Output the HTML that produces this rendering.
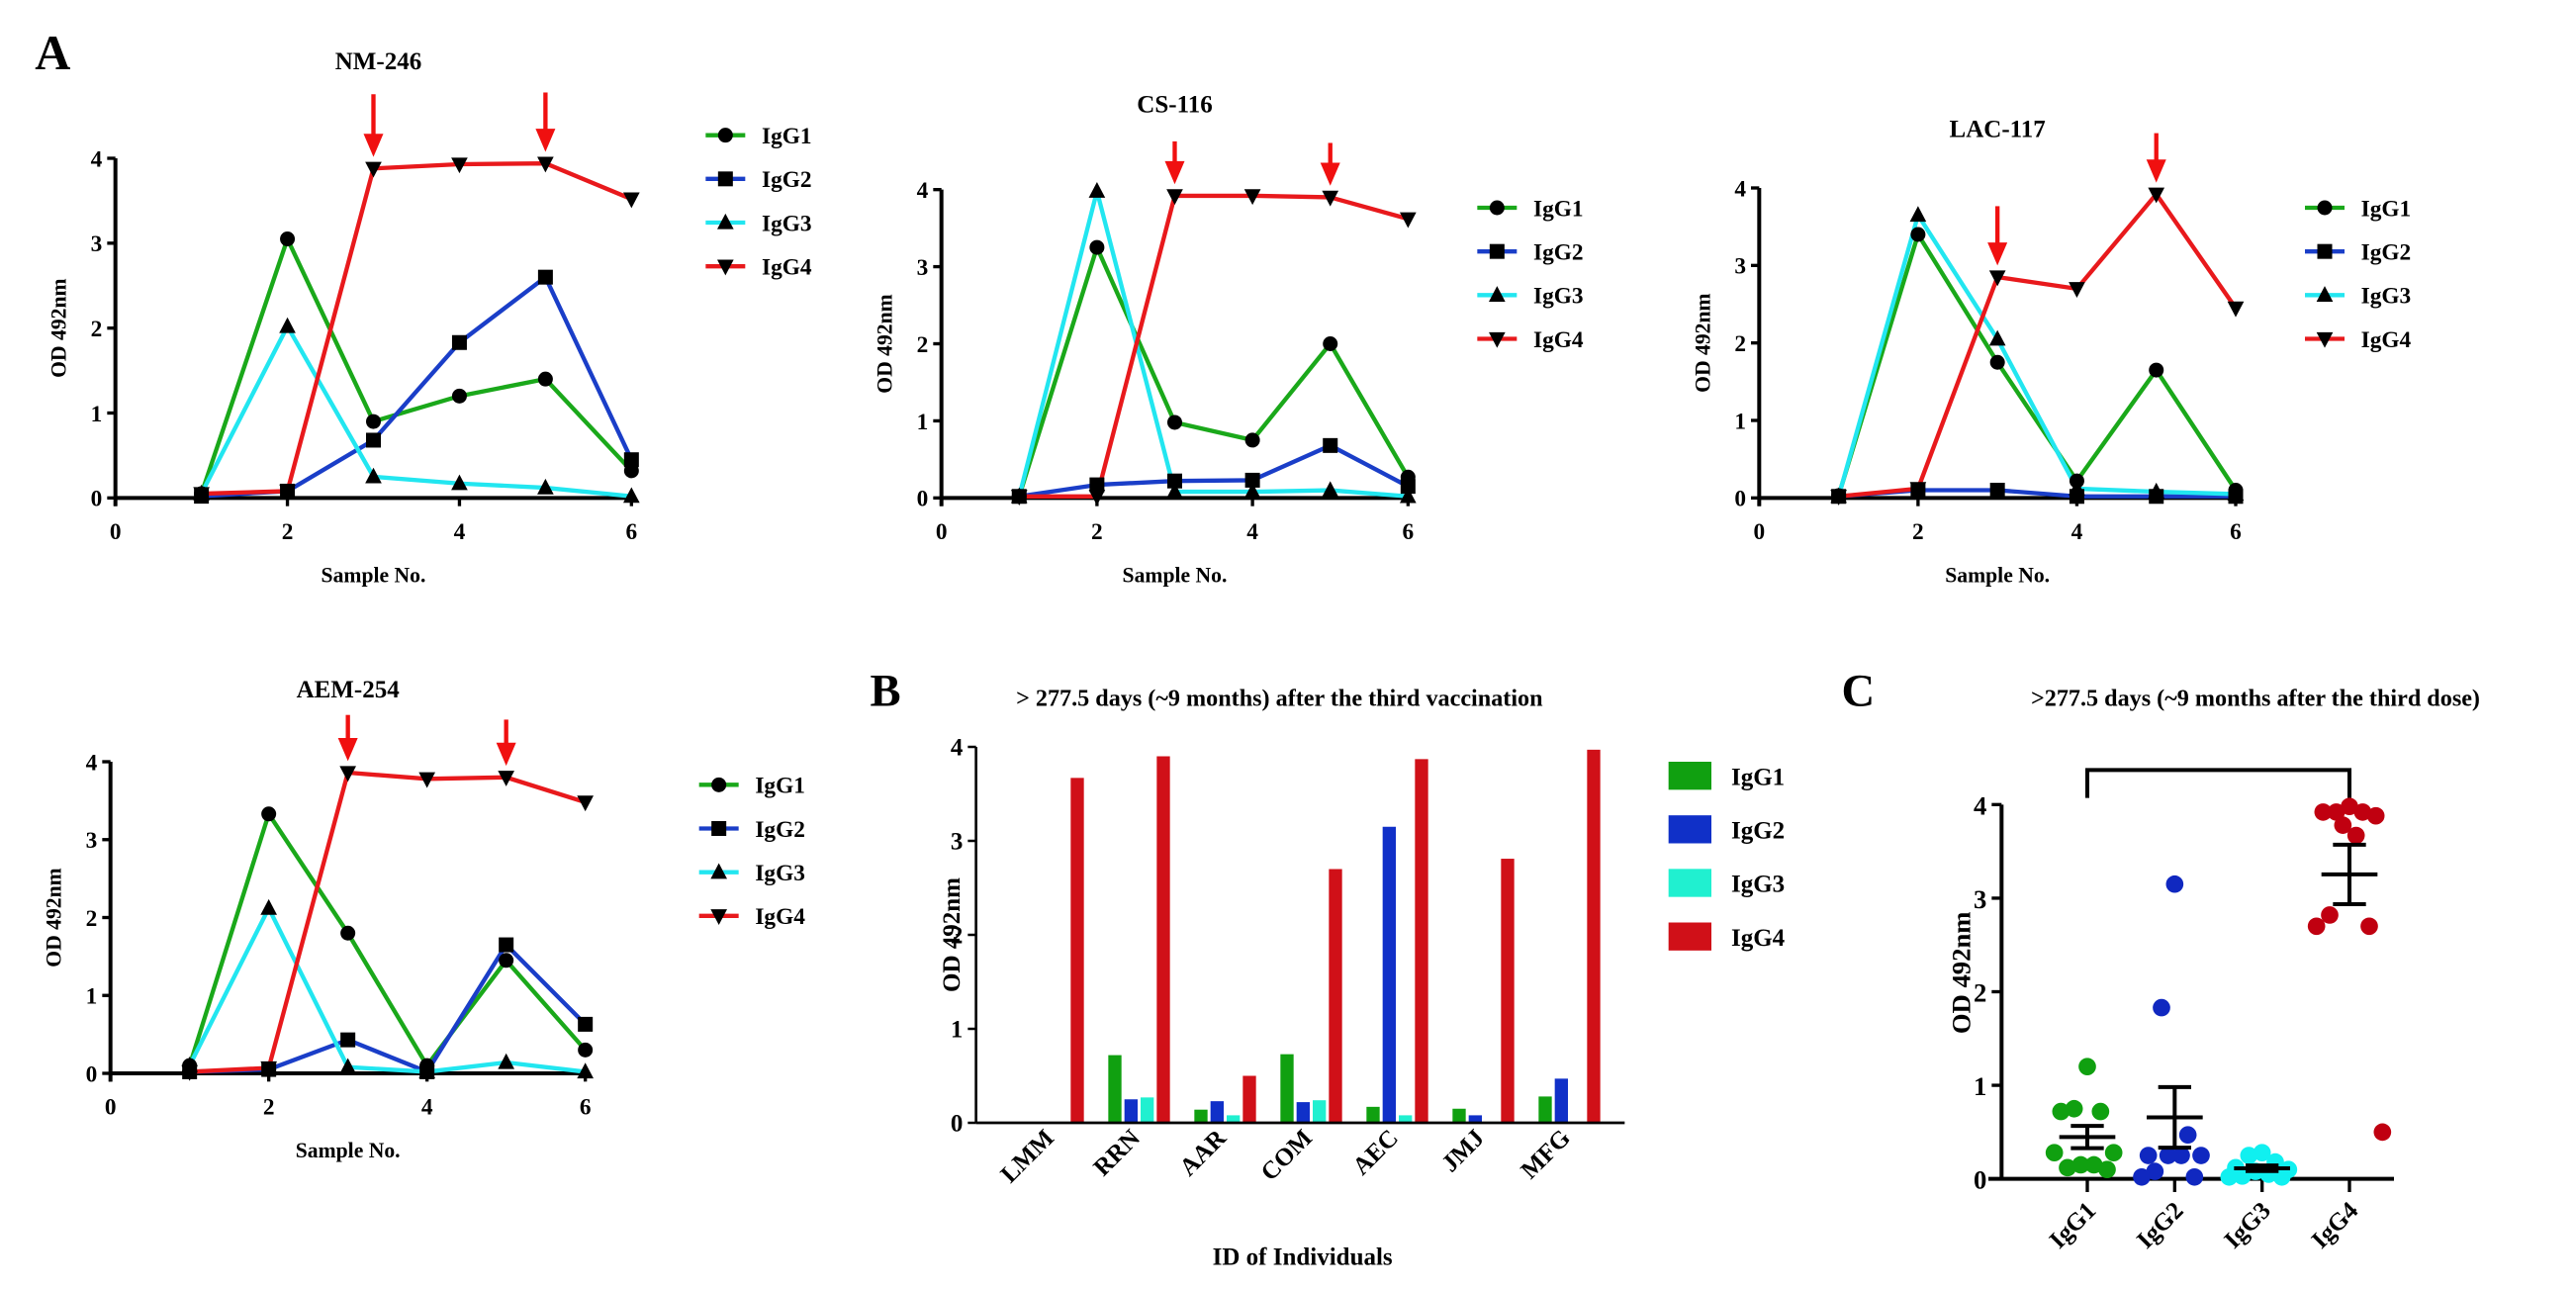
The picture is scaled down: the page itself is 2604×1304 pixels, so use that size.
<!DOCTYPE html>
<html><head><meta charset="utf-8"><style>
html,body{margin:0;padding:0;background:#fff;}
svg{display:block;font-family:"Liberation Serif",serif;font-weight:bold;}
</style></head><body>
<svg id="fig" width="2604" height="1304" viewBox="0 0 1562.4 782.4" xmlns="http://www.w3.org/2000/svg"></svg>
<script>
const series = ['IgG1','IgG2','IgG3','IgG4'];
const samples = [1,2,3,4,5,6];
const nmIgG1 = [0.05,3.05,0.9,1.2,1.4,0.32];
const nmIgG2 = [0.02,0.08,0.68,1.83,2.6,0.45];
const nmIgG3 = [0.05,2.02,0.25,0.17,0.12,0.02];
const nmIgG4 = [0.05,0.08,3.88,3.93,3.94,3.52];
const csIgG1 = [0.02,3.25,0.98,0.75,2.0,0.27];
const csIgG2 = [0.02,0.17,0.22,0.23,0.68,0.15];
const csIgG3 = [0.02,3.98,0.08,0.08,0.1,0.02];
const csIgG4 = [0.02,0.02,3.92,3.92,3.9,3.62];
const lacIgG1 = [0.03,3.4,1.75,0.22,1.65,0.1];
const lacIgG2 = [0.02,0.1,0.1,0.02,0.02,0.02];
const lacIgG3 = [0.02,3.65,2.05,0.12,0.08,0.05];
const lacIgG4 = [0.02,0.12,2.85,2.7,3.92,2.45];
const aemIgG1 = [0.1,3.33,1.8,0.1,1.45,0.3];
const aemIgG2 = [0.02,0.05,0.43,0.02,1.65,0.63];
const aemIgG3 = [0.1,2.12,0.08,0.02,0.14,0.02];
const aemIgG4 = [0.02,0.07,3.86,3.78,3.8,3.48];
const arrowSamples = [3,5];
const xTicks = [0,2,4,6];
const yTicks = [0,1,2,3,4];
const individuals = ['LMM','RRN','AAR','COM','AEC','JMJ','MFG'];
const barIgG1 = [0,0.72,0.14,0.73,0.17,0.15,0.28];
const barIgG2 = [0,0.25,0.23,0.22,3.15,0.08,0.47];
const barIgG3 = [0,0.27,0.08,0.24,0.08,0,0];
const barIgG4 = [3.67,3.9,0.5,2.7,3.87,2.81,3.97];
const dotIgG1 = [1.2,0.75,0.72,0.72,0.28,0.15,0.15,0.12,0.1,0.28];
const dotIgG2 = [3.15,1.83,0.47,0.25,0.25,0.25,0.25,0.08,0.02,0.02];
const dotIgG3 = [0.28,0.25,0.18,0.12,0.1,0.08,0.05,0.03,0.02,0.02];
const dotIgG4 = [3.98,3.92,3.92,3.92,3.88,3.78,3.67,2.82,2.7,2.7,0.5];

const NS='http://www.w3.org/2000/svg';
const svg=document.getElementById('fig');
function el(tag,attrs,parent,text){const e=document.createElementNS(NS,tag);for(const k in attrs)e.setAttribute(k,attrs[k]);if(text!==undefined)e.textContent=text;(parent||svg).appendChild(e);return e;}
function txt(x,y,s,size,parent,anchor,rot){const t=el('text',{x:x,y:y,'font-size':size,'text-anchor':anchor||'middle',fill:'#000'},parent,s);if(rot)t.setAttribute('transform','rotate('+rot+' '+x+' '+y+')');return t;}
const lineColors=['#1aa81a','#1a3ec8','#22e6f0','#e8191c'];
function marker(kind,x,y,g){
  let m;
  if(kind===0)m=el('circle',{cx:x,cy:y,r:4.5,fill:'#000'},g);
  else if(kind===1)m=el('rect',{x:x-4.5,y:y-4.5,width:9,height:9,fill:'#000'},g);
  else if(kind===2)m=el('polygon',{points:(x)+','+(y-5.5)+' '+(x-5)+','+(y+4)+' '+(x+5)+','+(y+4),fill:'#000'},g);
  else m=el('polygon',{points:(x)+','+(y+5.5)+' '+(x-5)+','+(y-4)+' '+(x+5)+','+(y-4),fill:'#000'},g);
  return m;
}
function linePanel(cfg){
  const g=el('g',{});
  
  
  const sx=v=>cfg.x0+(cfg.x6-cfg.x0)*v/6;
  const sy=v=>cfg.y0-(cfg.y0-cfg.y4)*v/4;
  const t=txt((cfg.x0+cfg.x6)/2+cfg.tdx,cfg.ty,cfg.title,15,g);
  
  const ya=el('line',{x1:cfg.x0,y1:cfg.y0+5,x2:cfg.x0,y2:sy(4),stroke:'#000','stroke-width':2.4},g);
  
  const xa=el('line',{x1:cfg.x0,y1:cfg.y0,x2:sx(6),y2:cfg.y0,stroke:'#000','stroke-width':2.4},g);
  
  yTicks.forEach(v=>{el('line',{x1:cfg.x0-5,y1:sy(v),x2:cfg.x0,y2:sy(v),stroke:'#000','stroke-width':2},g);
    const l=txt(cfg.x0-8,sy(v)+5,String(v),14,g,'end');});
  xTicks.forEach(v=>{el('line',{x1:sx(v),y1:cfg.y0,x2:sx(v),y2:cfg.y0+5,stroke:'#000','stroke-width':2},g);
    const l=txt(sx(v),cfg.y0+25,String(v),14,g);});
  const yt=txt(cfg.x0-30,(cfg.y0+sy(4))/2,'OD 492nm',13,g,'middle',-90);
  
  const xt=txt((cfg.x0+cfg.x6)/2,cfg.y0+51,'Sample No.',13,g);
  
  cfg.data.forEach((d,si)=>{
    const pts=d.map((v,i)=>sx(samples[i])+','+sy(v)).join(' ');
    const pl=el('polyline',{points:pts,fill:'none',stroke:lineColors[si],'stroke-width':2.6,'stroke-linejoin':'round'},g);
    
  });
  cfg.data.forEach((d,si)=>{d.forEach((v,i)=>{const m=marker(si,sx(samples[i]),sy(v),g);
    });});
  arrowSamples.forEach((s,i)=>{
    const x=sx(s),tip=sy(cfg.data[3][samples.indexOf(s)])-7,top=tip-cfg.arrowLen[i];
    const a=el('g',{},g);
    el('line',{x1:x,y1:top,x2:x,y2:tip-12,stroke:'#f01010','stroke-width':2.6},a);
    el('polygon',{points:(x-6)+','+(tip-14)+' '+(x+6)+','+(tip-14)+' '+x+','+tip,fill:'#f01010'},a);
  });
  series.forEach((s,si)=>{
    const y=cfg.ly+si*26.5;
    const lg=el('g',{},g);
    el('line',{x1:cfg.lx,y1:y,x2:cfg.lx+24,y2:y,stroke:lineColors[si],'stroke-width':2.6},lg);
    marker(si,cfg.lx+12,y,lg);
    txt(cfg.lx+34,y+5,s,14,lg,'start');
  });
}
linePanel({name:'panel-nm-246',title:'NM-246',x0:70,x6:383,y0:302,y4:96,tdx:3,ty:42,lx:428,ly:82,arrowLen:[38,36],data:[nmIgG1,nmIgG2,nmIgG3,nmIgG4]});
linePanel({name:'panel-cs-116',title:'CS-116',x0:571,x6:854,y0:302,y4:115,tdx:0,ty:68,lx:896,ly:126,arrowLen:[26,26],data:[csIgG1,csIgG2,csIgG3,csIgG4]});
linePanel({name:'panel-lac-117',title:'LAC-117',x0:1067,x6:1356,y0:302,y4:114,tdx:0,ty:83,lx:1398,ly:126,arrowLen:[36,30],data:[lacIgG1,lacIgG2,lacIgG3,lacIgG4]});
linePanel({name:'panel-aem-254',title:'AEM-254',x0:67,x6:355,y0:651,y4:462,tdx:0,ty:423,lx:424,ly:476,arrowLen:[28,28],data:[aemIgG1,aemIgG2,aemIgG3,aemIgG4]});
const A=txt(32,42,'A',30,svg);

(function(){
  const g=el('g',{});
  const ax=592,y0=681,y4=453,gx0=620,gw=52.2;
  const sy=v=>y0-(y0-y4)*v/4;
  const bcol=['#10a010','#1030c8','#20f0d0','#d01018'];
  const L=txt(537,428,'B',28,g);
  const t=txt(776,428,'> 277.5 days  (~9 months) after the third vaccination',14.5,g);
  const vals=[barIgG1,barIgG2,barIgG3,barIgG4];
  vals.forEach((arr,si)=>arr.forEach((v,i)=>{
    const x=gx0+gw*i+si*9.8;
    const r=el('rect',{x:x,y:sy(v),width:8,height:y0-sy(v),fill:bcol[si]},g);
    
  }));
  const ya=el('line',{x1:ax,y1:y0,x2:ax,y2:y4,stroke:'#000','stroke-width':1.6},g);
  const xa=el('line',{x1:ax,y1:y0,x2:gx0+gw*7,y2:y0,stroke:'#000','stroke-width':1.6},g);
  yTicks.forEach(v=>{el('line',{x1:ax-5,y1:sy(v),x2:ax,y2:sy(v),stroke:'#000','stroke-width':1.5},g);
    const l=txt(ax-8,sy(v)+5,String(v),15,g,'end');});
  individuals.forEach((s,i)=>{const cx=gx0+gw*i+20;
    const l=txt(cx,y0+10,s,15,g,'end',-45);});
  const yt=txt(582,567,'OD 492nm',15,g,'middle',-90);
  const xt=txt(790,767,'ID of Individuals',15,g);
  series.forEach((s,si)=>{const y=470+si*32.5;
    const lg=el('g',{},g);
    el('rect',{x:1012,y:y-8,width:26,height:17,fill:bcol[si]},lg);
    txt(1050,y+6,s,15,lg,'start');});
})();

(function(){
  const g=el('g',{});
  const ax=1214,y0=715,y4=488,cx0=1266,cw=53;
  const sy=v=>y0-(y0-y4)*v/4;
  const dcol=['#10a010','#1028c0','#10f0f0','#c00010'];
  const L=txt(1127,428,'C',28,g);
  const t=txt(1368,428,'>277.5 days (~9 months after the third dose)',14.5,g);
  const br=el('polyline',{points:cx0+',484 '+cx0+',467 '+(cx0+cw*3)+',467 '+(cx0+cw*3)+',484',fill:'none',stroke:'#000','stroke-width':2.4},g);
  
  const ya=el('line',{x1:ax,y1:y0,x2:ax,y2:y4,stroke:'#000','stroke-width':2.4},g);
  const xa=el('line',{x1:ax-8,y1:y0,x2:1452,y2:y0,stroke:'#000','stroke-width':2.4},g);
  yTicks.forEach(v=>{el('line',{x1:ax-6,y1:sy(v),x2:ax,y2:sy(v),stroke:'#000','stroke-width':2},g);
    const l=txt(ax-9,sy(v)+6,String(v),16,g,'end');});
  const yt=txt(1195,590,'OD 492nm',16,g,'middle',-90);
  const vals=[dotIgG1,dotIgG2,dotIgG3,dotIgG4];
  const jit=[0,-8,8,-16,16,-4,4,-12,12,-20,20];
  vals.forEach((arr,si)=>{
    const cx=cx0+cw*si;
    el('line',{x1:cx,y1:y0,x2:cx,y2:y0+8,stroke:'#000','stroke-width':2},g);
    const l=txt(cx+6,y0+20,series[si],15,g,'end',-45);
    arr.forEach((v,i)=>{const off=jit[i%jit.length];
      const d=el('circle',{cx:cx+off,cy:sy(v),r:5.3,fill:dcol[si]},g);
      });
    const n=arr.length,m=arr.reduce((a,b)=>a+b,0)/n;
    const sd=Math.sqrt(arr.reduce((a,b)=>a+(b-m)*(b-m),0)/(n-1)),se=sd/Math.sqrt(n);
    const eg=el('g',{},g);
    el('line',{x1:cx-17,y1:sy(m),x2:cx+17,y2:sy(m),stroke:'#000','stroke-width':2.4},eg);
    el('line',{x1:cx,y1:sy(m-se),x2:cx,y2:sy(m+se),stroke:'#000','stroke-width':2.4},eg);
    el('line',{x1:cx-10,y1:sy(m+se),x2:cx+10,y2:sy(m+se),stroke:'#000','stroke-width':2.4},eg);
    el('line',{x1:cx-10,y1:sy(m-se),x2:cx+10,y2:sy(m-se),stroke:'#000','stroke-width':2.4},eg);
  });
})();
</script>
</body></html>
